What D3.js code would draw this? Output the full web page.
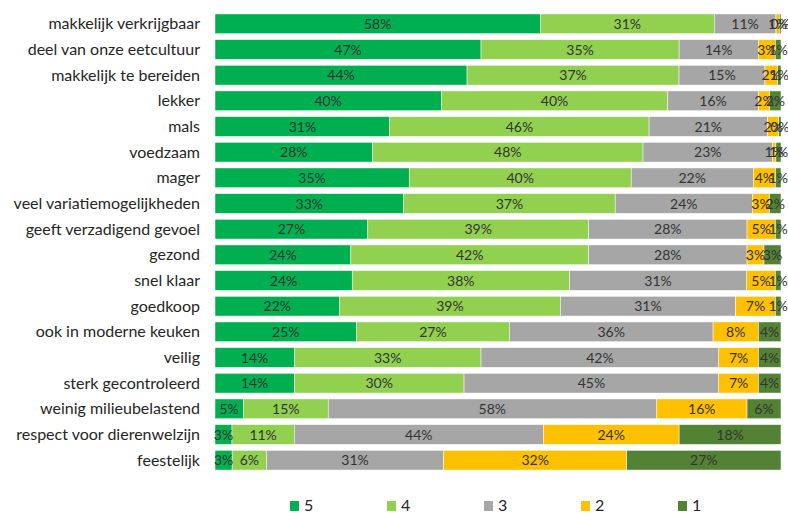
<!DOCTYPE html>
<html><head><meta charset="utf-8">
<script src="https://cdn.jsdelivr.net/npm/d3@7"></script>
<style>body{margin:0;background:#fff}svg{display:block}</style>
</head><body><svg id="c" width="788" height="513"></svg>
<script>
const categories = ["makkelijk verkrijgbaar","deel van onze eetcultuur","makkelijk te bereiden","lekker","mals","voedzaam","mager","veel variatiemogelijkheden","geeft verzadigend gevoel","gezond","snel klaar","goedkoop","ook in moderne keuken","veilig","sterk gecontroleerd","weinig milieubelastend","respect voor dierenwelzijn","feestelijk"];
const seriesNames = ["5","4","3","2","1"];
const s5 = [58,47,44,40,31,28,35,33,27,24,24,22,25,14,14,5,3,3];
const s4 = [31,35,37,40,46,48,40,37,39,42,38,39,27,33,30,15,11,6];
const s3 = [11,14,15,16,21,23,22,24,28,28,31,31,36,42,45,58,44,31];
const s2 = [0.6,3,2.2,2,2,0.6,4,3,5,3,5,7,8,7,7,16,24,32];
const s1 = [0.3,1,0.6,2,0.4,0.9,1,2,1,3,1,1,4,4,4,6,18,27];
const colors = ["#00B050","#92D050","#A6A6A6","#FFC000","#548235"];

const series = [s5,s4,s3,s2,s1];
const svg = d3.select("#c");
const x = d3.scaleLinear().domain([0,100]).range([215,781]);
const y = d3.scaleBand().domain(categories).range([11,473]).paddingInner(0.23).paddingOuter(0.115);
const font = "Lato, 'Open Sans', sans-serif";

categories.forEach((cat,i)=>{
  const vals = series.map(s=>s[i]);
  const total = d3.sum(vals);
  let acc = 0;
  const g = svg.append("g");
  vals.forEach((v,j)=>{
    const p0 = acc/total*100, p1 = (acc+v)/total*100;
    acc += v;
    g.append("rect").attr("x",x(p0)).attr("y",y(cat)).attr("width",Math.max(0,x(p1)-x(p0))).attr("height",y.bandwidth())
      .attr("fill",colors[j]).attr("stroke","#fff").attr("stroke-width",0.5);
  });
  acc = 0;
  vals.forEach((v,j)=>{
    const p0 = acc/total*100, p1 = (acc+v)/total*100;
    acc += v;
    g.append("text").attr("x",(x(p0)+x(p1))/2).attr("y",y(cat)+y.bandwidth()/2+5)
      .attr("text-anchor","middle").attr("font-family",font).attr("font-size",14).attr("fill","#333")
      .text(Math.round(v)+"%");
  });
});

svg.append("g").selectAll("text").data(categories).join("text")
  .attr("x",200).attr("y",d=>y(d)+y.bandwidth()/2+5.5)
  .attr("text-anchor","end").attr("font-family",font).attr("font-size",16).attr("fill","#262626")
  .text(d=>d);

const lx = d3.scalePoint().domain(seriesNames).range([290,678]);
const lg = svg.append("g");
seriesNames.forEach((n,j)=>{
  lg.append("rect").attr("x",lx(n)).attr("y",501).attr("width",9).attr("height",10).attr("fill",colors[j]);
  lg.append("text").attr("x",lx(n)+14).attr("y",511).attr("font-family",font).attr("font-size",16).attr("fill","#262626").text(n);
});
</script></body></html>
